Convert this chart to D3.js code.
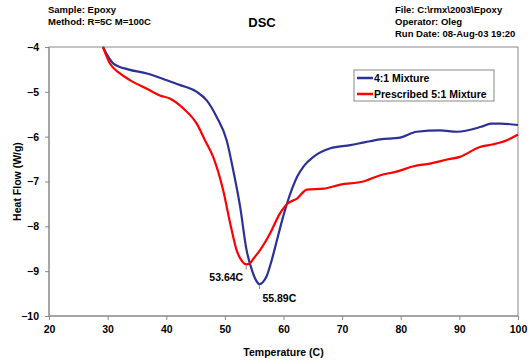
<!DOCTYPE html>
<html>
<head>
<meta charset="utf-8">
<script src="https://cdn.jsdelivr.net/npm/d3@7"></script>
<style>
  body { margin: 0; background: #fff; }
  text { font-family: Arial, "Liberation Sans", sans-serif; font-weight: bold; fill: #000; }
</style>
</head>
<body>
<svg width="532" height="364"></svg>
<script>
// values
const seriesNames = ['4:1 Mixture', 'Prescribed 5:1 Mixture'];
const mix41Temp = [29.2, 31.0, 33.5, 36.7, 40.1, 42.4, 45.2, 46.9, 48.6, 50.3, 51.5, 52.6, 53.7, 54.6, 55.3, 55.9, 56.5, 57.1, 58.0, 58.9, 59.8, 60.6, 61.5, 62.3, 63.5, 65.1, 68.0, 71.4, 74.0, 76.5, 79.9, 82.7, 86.7, 89.6, 93.7, 95.4, 97.0, 100];
const mix41Flow = [-4.0, -4.37, -4.5, -4.59, -4.74, -4.85, -5.0, -5.19, -5.56, -6.08, -6.8, -7.56, -8.53, -8.97, -9.2, -9.29, -9.24, -9.12, -8.75, -8.3, -7.85, -7.49, -7.15, -6.9, -6.65, -6.45, -6.26, -6.19, -6.12, -6.06, -6.02, -5.89, -5.86, -5.89, -5.78, -5.71, -5.71, -5.74];
const mix51Temp = [29.2, 30.4, 32.1, 33.8, 36.7, 38.9, 40.6, 42.9, 45.2, 46.6, 48.0, 49.7, 50.9, 52.0, 53.0, 53.64, 54.3, 55.0, 56.0, 57.7, 59.4, 60.6, 62.3, 64.0, 66.8, 69.7, 73.6, 76.5, 79.3, 82.2, 85.0, 87.9, 90.1, 93.5, 95.8, 98.1, 100];
const mix51Flow = [-4.0, -4.37, -4.59, -4.74, -4.93, -5.08, -5.15, -5.37, -5.71, -6.08, -6.45, -7.19, -7.93, -8.53, -8.79, -8.85, -8.82, -8.7, -8.53, -8.16, -7.71, -7.5, -7.38, -7.18, -7.16, -7.07, -7.0, -6.86, -6.78, -6.66, -6.6, -6.51, -6.45, -6.23, -6.17, -6.08, -5.95];
const peakTemp = [55.89, 53.64];
const peakFlow = [-9.29, -8.85];
const peakLabels = ['55.89C', '53.64C'];
const xTicks = [20, 30, 40, 50, 60, 70, 80, 90, 100];
const yTicks = [-4, -5, -6, -7, -8, -9, -10];
const headerLeft = ['Sample: Epoxy', 'Method: R=5C M=100C'];
const headerRight = ['File: C:\\rmx\\2003\\Epoxy', 'Operator: Oleg', 'Run Date: 08-Aug-03 19:20'];

const colors = ['#2b3196', '#ff0000'];

const svg = d3.select('svg');
const margin = { left: 49, right: 14, top: 47, bottom: 48 };
const width = +svg.attr('width');
const height = +svg.attr('height');
const plotW = width - margin.left - margin.right;
const plotH = height - margin.top - margin.bottom;

const x = d3.scaleLinear().domain([20, 100]).range([0, plotW]);
const y = d3.scaleLinear().domain([-10, -4]).range([plotH, 0]);

const g = svg.append('g')
    .attr('transform', `translate(${margin.left},${margin.top})`);

// header texts
svg.selectAll('.hl').data(headerLeft).enter().append('text')
    .attr('x', 48).attr('y', (d, i) => 13 + i * 12)
    .style('font-size', '9.5px').text(d => d);
svg.selectAll('.hr').data(headerRight).enter().append('text')
    .attr('x', 395).attr('y', (d, i) => 13 + i * 12)
    .style('font-size', '9.5px').text(d => d);
svg.append('text')
    .attr('x', 262).attr('y', 27).attr('text-anchor', 'middle')
    .style('font-size', '13px').text('DSC');

// frame
g.append('rect')
    .attr('width', plotW).attr('height', plotH)
    .attr('fill', 'none').attr('stroke', '#888').attr('stroke-width', 1);

const xAxis = g.append('g')
    .attr('transform', `translate(0,${plotH})`)
    .call(d3.axisBottom(x).tickValues(xTicks).tickSize(4).tickPadding(6).tickFormat(d3.format('d')));
const yAxis = g.append('g')
    .call(d3.axisLeft(y).tickValues(yTicks).tickSize(4).tickPadding(6).tickFormat(d3.format('d')));
[xAxis, yAxis].forEach(a => {
  a.selectAll('path, line').attr('stroke', '#888');
  a.selectAll('text').style('font-size', '10.5px').style('font-family', 'Arial, "Liberation Sans", sans-serif').style('font-weight', 'bold');
});
xAxis.select('.domain').attr('d', `M0,0H${plotW}`);
yAxis.select('.domain').attr('d', `M0,0V${plotH}`);

svg.append('text')
    .attr('x', margin.left + plotW / 2).attr('y', 356)
    .attr('text-anchor', 'middle').style('font-size', '10.5px')
    .text('Temperature (C)');
svg.append('text')
    .attr('transform', `translate(21,${margin.top + plotH / 2}) rotate(-90)`)
    .attr('text-anchor', 'middle').style('font-size', '10.5px')
    .text('Heat Flow (W/g)');

// curves
const line = d3.line().x(d => x(d[0])).y(d => y(d[1])).curve(d3.curveMonotoneX);
const series = [d3.zip(mix41Temp, mix41Flow), d3.zip(mix51Temp, mix51Flow)];
g.selectAll('.curve').data(series).enter().append('path')
    .attr('d', line)
    .attr('fill', 'none')
    .attr('stroke', (d, i) => colors[i])
    .attr('stroke-width', 2.2);

// peak annotations
peakTemp.forEach((t, i) => {
  g.append('line')
      .attr('x1', x(t)).attr('x2', x(t))
      .attr('y1', y(peakFlow[i]) + 1).attr('y2', y(peakFlow[i]) + 5)
      .attr('stroke', '#888').attr('stroke-width', 1);
});
g.append('text')
    .attr('x', x(peakTemp[0]) + 3).attr('y', y(peakFlow[0]) + 18)
    .style('font-size', '10.5px').text(peakLabels[0]);
g.append('text')
    .attr('x', x(peakTemp[1]) - 3).attr('y', y(peakFlow[1]) + 17)
    .attr('text-anchor', 'end')
    .style('font-size', '10.5px').text(peakLabels[1]);

// legend
const legend = svg.append('g').attr('transform', 'translate(354,70)');
legend.append('rect')
    .attr('width', 140).attr('height', 31)
    .attr('fill', '#fff').attr('stroke', '#888');
seriesNames.forEach((name, i) => {
  legend.append('line')
      .attr('x1', 3).attr('x2', 19)
      .attr('y1', 8 + i * 16).attr('y2', 8 + i * 16)
      .attr('stroke', colors[i]).attr('stroke-width', 2.5);
  legend.append('text')
      .attr('x', 20).attr('y', 12 + i * 16)
      .style('font-size', '10.5px').text(name);
});
</script>
</body>
</html>
